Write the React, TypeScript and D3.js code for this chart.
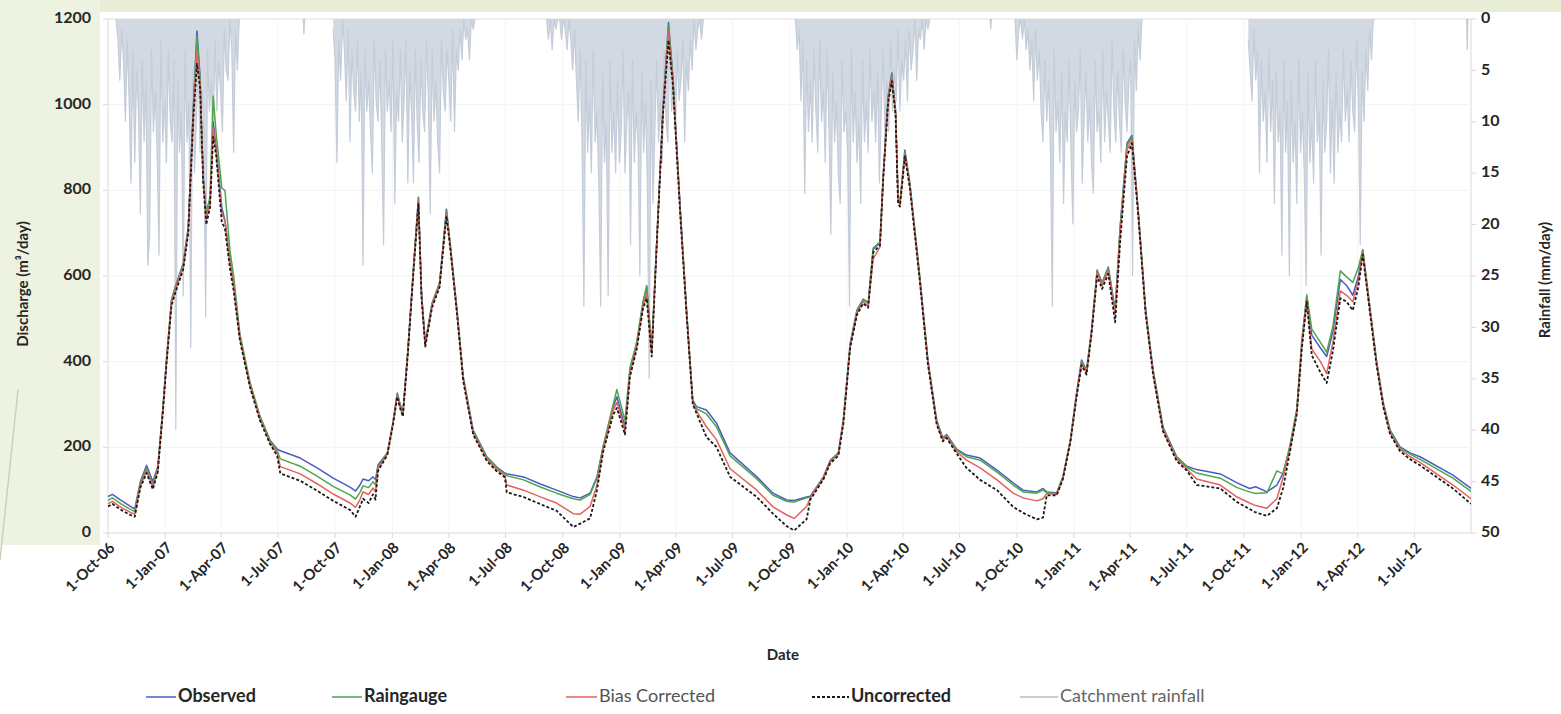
import React from "react";
import * as d3 from "d3";

// ---------- DATA ----------
const dischargeDates = [
  "2006-10-01","2006-10-08","2006-10-22","2006-11-06","2006-11-13","2006-11-22","2006-12-02","2006-12-12","2006-12-20","2006-12-28",
  "2007-01-03","2007-01-11","2007-01-17","2007-01-30","2007-02-07","2007-02-15","2007-02-21","2007-02-26","2007-03-03","2007-03-08",
  "2007-03-14","2007-03-19","2007-03-24","2007-04-02","2007-04-07","2007-04-15","2007-04-21","2007-05-01","2007-05-17","2007-06-02",
  "2007-06-18","2007-06-30","2007-07-05","2007-08-06","2007-09-02","2007-09-28","2007-10-25","2007-11-03","2007-11-10","2007-11-15",
  "2007-11-24","2007-12-01","2007-12-05","2007-12-09","2007-12-24","2008-01-02","2008-01-09","2008-01-13","2008-01-18","2008-01-26",
  "2008-02-03","2008-02-12","2008-02-17","2008-02-23","2008-03-05","2008-03-17","2008-03-28","2008-04-03","2008-04-14","2008-04-24",
  "2008-05-10","2008-06-01","2008-06-17","2008-06-30","2008-07-03","2008-07-30","2008-08-25","2008-09-21","2008-10-18","2008-10-29",
  "2008-11-14","2008-11-25","2008-12-05","2008-12-21","2008-12-27","2009-01-09","2009-01-17","2009-01-28","2009-02-07","2009-02-13",
  "2009-02-21","2009-03-01","2009-03-11","2009-03-20","2009-03-27","2009-04-08","2009-04-18","2009-04-28","2009-05-04","2009-05-20",
  "2009-06-05","2009-06-27","2009-08-09","2009-09-04","2009-09-26","2009-10-08","2009-10-28","2009-11-03","2009-11-24","2009-12-05",
  "2009-12-18","2009-12-26","2010-01-06","2010-01-17","2010-01-27","2010-02-04","2010-02-12","2010-02-23","2010-02-28","2010-03-08",
  "2010-03-14","2010-03-20","2010-03-24","2010-03-27","2010-04-04","2010-04-12","2010-04-28","2010-05-11","2010-05-25","2010-06-04",
  "2010-06-10","2010-06-26","2010-07-12","2010-08-03","2010-08-30","2010-09-25","2010-10-11","2010-11-02","2010-11-12","2010-11-18",
  "2010-12-04","2010-12-14","2010-12-26","2011-01-05","2011-01-13","2011-01-21","2011-01-29","2011-02-07","2011-02-15","2011-02-25",
  "2011-03-08","2011-03-16","2011-03-27","2011-04-04","2011-04-14","2011-04-26","2011-05-08","2011-05-24","2011-06-15","2011-07-01",
  "2011-07-17","2011-08-24","2011-09-20","2011-10-10","2011-10-20","2011-11-07","2011-11-23","2011-12-03","2011-12-14","2011-12-25",
  "2012-01-02","2012-01-10","2012-01-18","2012-02-01","2012-02-11","2012-02-21","2012-03-04","2012-03-14","2012-03-24","2012-04-02",
  "2012-04-09","2012-04-21","2012-05-01","2012-05-12","2012-05-23","2012-06-08","2012-06-24","2012-07-10","2012-09-01","2012-09-30",
];

const observed = [
  85,90,76,62,56,120,158,120,154,288,
  404,544,574,630,714,988,1172,1065,831,738,
  770,960,900,760,730,637,584,458,350,272,
  217,196,192,175,152,128,107,98,112,126,
  122,131,124,159,187,257,327,304,280,427,
  598,784,560,445,537,584,756,677,521,365,
  240,178,154,140,138,131,115,100,85,82,
  93,131,201,294,318,247,380,443,537,574,
  427,677,988,1192,1065,754,521,310,295,287,
  257,187,131,93,77,76,84,86,131,170,
  187,264,443,521,546,538,662,678,832,1018,
  1074,988,784,770,894,817,598,404,264,222,
  230,196,182,175,147,117,100,96,104,96,
  94,131,217,327,404,380,474,614,584,621,
  521,714,910,928,754,521,380,247,178,156,
  148,138,117,104,108,96,112,140,201,287,
  443,552,462,432,412,470,592,578,555,600,
  660,521,404,304,240,201,187,178,135,104,
];

const raingauge = [
  76,82,68,55,50,116,152,114,150,286,
  402,542,572,628,712,985,1160,1060,830,748,
  785,1020,930,805,800,660,600,465,354,274,
  218,192,173,156,133,109,89,79,95,110,
  106,120,112,155,186,256,325,302,278,425,
  596,780,558,443,535,582,752,675,519,363,
  238,176,152,138,134,124,108,93,80,77,
  90,128,203,300,335,262,386,446,540,578,
  432,678,985,1186,1062,752,520,308,290,278,
  248,180,126,88,74,72,82,84,130,168,
  186,262,440,518,544,536,665,680,830,1015,
  1070,985,782,768,890,815,596,402,262,220,
  228,194,178,170,142,112,96,93,100,94,
  92,130,216,325,400,378,472,612,582,618,
  518,712,905,925,752,519,378,245,176,154,
  140,128,106,96,92,94,145,138,205,290,
  448,556,476,445,422,482,612,598,585,620,
  662,520,402,302,238,199,184,172,128,97,
];

const biasCorrected = [
  68,74,60,48,44,110,146,108,146,282,
  398,536,566,622,706,975,1125,1050,825,732,
  768,945,890,745,730,630,580,455,346,268,
  213,186,155,138,115,91,70,60,78,96,
  90,105,96,150,184,254,322,298,275,422,
  592,775,552,439,531,578,746,671,515,359,
  234,172,148,134,112,100,85,70,45,44,
  62,112,196,286,305,240,372,436,530,560,
  420,672,980,1172,1055,746,515,304,285,248,
  218,150,100,61,42,34,62,82,128,166,
  184,258,436,514,540,530,640,668,825,1010,
  1062,980,778,765,885,810,592,398,258,217,
  225,190,170,152,124,93,82,75,80,92,
  90,128,214,322,396,375,468,608,578,612,
  510,700,895,918,748,515,374,241,172,150,
  126,112,84,70,64,58,80,130,196,282,
  436,545,430,400,372,445,565,555,540,590,
  655,515,398,298,234,195,178,165,112,80,
];

const uncorrected = [
  62,68,54,42,38,106,140,102,142,278,
  394,530,560,616,700,965,1095,1040,820,720,
  760,925,880,725,712,618,566,450,342,264,
  209,180,139,122,99,75,54,38,62,80,
  70,90,78,145,182,252,318,294,272,418,
  588,768,548,435,527,574,740,667,511,355,
  230,168,144,130,95,84,68,52,14,22,
  34,100,190,276,292,230,365,430,524,548,
  412,668,975,1150,1048,740,510,300,280,224,
  201,131,84,45,16,6,32,78,125,163,
  180,254,432,510,536,526,655,672,822,1005,
  1055,975,770,762,880,805,588,394,254,214,
  222,186,152,124,100,61,47,32,36,88,
  88,126,212,318,392,370,464,600,570,605,
  492,680,880,910,744,511,370,237,168,146,
  112,104,72,56,48,40,58,105,190,278,
  430,540,415,375,350,425,548,540,520,575,
  650,510,394,294,230,191,172,158,104,68,
];

// Catchment rainfall (mm/day), wet seasons read every 3 days from each start date
const rainSeasonStarts = ["2006-10-14", "2007-09-28", "2008-09-05", "2009-10-10", "2010-09-28", "2011-10-08"];
const rainStepDays = 3;
const rain2006 = [0,2,6,1,4,10,2,8,16,3,14,5,9,19,4,12,6,24,21,3,11,7,13,23,2,12,8,14,3,10,12,4,40,6,13,9,27,3,12,8,32,5,15,10,4,13,7,11,29,3,9,6,12,2,9,4,7,11,1,5,6,0,3,13,1,5,0];
const rain2007 = [1,4,14,2,6,0,3,8,1,12,3,7,9,2,10,5,24,3,9,6,11,15,2,8,10,4,12,22,3,9,6,11,2,18,7,10,3,12,8,2,16,5,9,16,3,10,14,4,9,11,2,8,19,3,10,6,12,15,2,7,9,3,6,10,1,11,3,5,1,4,0,2,1,4,0,1,0];
const rain2008 = [0,2,0,3,0,1,0,0,2,0,1,3,0,2,5,1,6,10,3,12,28,4,13,8,15,3,12,9,16,28,5,14,10,27,4,13,9,15,6,14,11,3,15,10,7,22,4,14,9,12,25,5,13,8,16,35,6,18,11,4,12,8,14,3,10,12,2,9,7,11,3,8,6,2,12,4,7,2,5,0,3,1,0,2,0];
const rain2009 = [0,3,1,8,2,17,4,11,6,12,3,9,13,2,10,7,14,3,11,21,5,12,8,15,18,4,11,9,13,28,3,12,7,14,10,18,4,12,8,13,3,10,7,12,5,16,9,3,12,6,11,2,9,5,8,1,9,4,6,2,8,1,5,3,0,6,1,2,0,3,0,1,0];
const rain2010 = [0,4,1,0,2,0,3,1,5,2,8,1,6,3,9,12,4,10,6,13,28,3,11,8,14,5,18,9,12,4,13,20,6,11,9,3,16,10,5,12,8,14,17,4,11,9,14,3,12,7,10,13,2,9,12,5,10,13,3,8,11,6,4,25,2,7,1,4,0];
const rain2011 = [2,5,8,1,6,3,15,4,10,7,14,3,11,6,18,5,12,9,23,4,13,8,25,6,14,10,18,4,13,9,15,26,5,14,10,16,4,12,9,23,6,13,10,3,15,8,16,5,13,9,12,3,10,7,12,4,9,11,2,8,22,5,10,3,7,1,4,0,0];
const rainSeasons = [rain2006, rain2007, rain2008, rain2009, rain2010, rain2011];
const showerDates = ["2007-08-12", "2010-08-20", "2012-09-24"];
const showerValues = [1.5, 1, 3];

const xTickDates = [
  "2006-10-01","2007-01-01","2007-04-01","2007-07-01","2007-10-01","2008-01-01","2008-04-01","2008-07-01","2008-10-01",
  "2009-01-01","2009-04-01","2009-07-01","2009-10-01","2010-01-01","2010-04-01","2010-07-01","2010-10-01",
  "2011-01-01","2011-04-01","2011-07-01","2011-10-01","2012-01-01","2012-04-01","2012-07-01",
];
const xTickLabels = [
  "1-Oct-06","1-Jan-07","1-Apr-07","1-Jul-07","1-Oct-07","1-Jan-08","1-Apr-08","1-Jul-08","1-Oct-08",
  "1-Jan-09","1-Apr-09","1-Jul-09","1-Oct-09","1-Jan-10","1-Apr-10","1-Jul-10","1-Oct-10",
  "1-Jan-11","1-Apr-11","1-Jul-11","1-Oct-11","1-Jan-12","1-Apr-12","1-Jul-12",
];
const dischargeTicks = [0, 200, 400, 600, 800, 1000, 1200];
const rainTicks = [0, 5, 10, 15, 20, 25, 30, 35, 40, 45, 50];

const seriesNames = ["Observed", "Raingauge", "Bias Corrected", "Uncorrected", "Catchment rainfall"];

// ---------- CHART ----------
const W = 1561, H = 714;
const L = 108, R = 1471, T = 19, B = 533;
const FONT = "Lato, 'Open Sans', sans-serif";
const parse = d3.utcParse("%Y-%m-%d");

type RainPt = { d: Date; v: number };

export default function App() {
  const x = d3.scaleUtc().domain([parse("2006-10-01")!, parse("2012-09-30")!]).range([L, R]);
  const yQ = d3.scaleLinear().domain([0, 1200]).range([B, T]);
  const yR = d3.scaleLinear().domain([0, 50]).range([T, B]);

  const dates = dischargeDates.map((d) => parse(d)!);
  const qLine = (vals: number[]) =>
    d3.line<number>().x((_, i) => x(dates[i])).y((v) => yQ(v))(vals) || "";

  const rainLine = d3.line<RainPt>().x((p) => x(p.d)).y((p) => yR(p.v));
  const rainArea = d3.area<RainPt>().x((p) => x(p.d)).y0(yR(0)).y1((p) => yR(p.v));
  const rainSets: RainPt[][] = rainSeasons.map((vals, s) => {
    const start = parse(rainSeasonStarts[s])!;
    return vals.map((v, i) => ({ d: d3.utcDay.offset(start, i * rainStepDays), v }));
  });
  showerDates.forEach((sd, k) => {
    const d = parse(sd)!;
    rainSets.push([
      { d: d3.utcDay.offset(d, -1), v: 0 },
      { d, v: showerValues[k] },
      { d: d3.utcDay.offset(d, 1), v: 0 },
    ]);
  });

  const colors = ["#4a5cc4", "#4ea64a", "#e2635c", "#1a1a1a", "#c4ccd8"];
  const series = [observed, raingauge, biasCorrected, uncorrected];

  const legendItems = [
    { x: 146, w: 30, bold: true, dash: "", color: colors[0], text: seriesNames[0], tc: "#262626" },
    { x: 332, w: 30, bold: true, dash: "", color: colors[1], text: seriesNames[1], tc: "#262626" },
    { x: 566, w: 31, bold: false, dash: "", color: colors[2], text: seriesNames[2], tc: "#555" },
    { x: 812, w: 37, bold: true, dash: "3 2", color: colors[3], text: seriesNames[3], tc: "#262626" },
    { x: 1020, w: 38, bold: false, dash: "", color: "#b8bcc2", text: seriesNames[4], tc: "#666" },
  ];

  return (
    <svg width={W} height={H} style={{ position: "absolute", left: 0, top: 0, background: "#ffffff" }} fontFamily={FONT}>
      <defs>
        <clipPath id="plotClip">
          <rect x={L} y={T} width={R - L} height={B - T} />
        </clipPath>
      </defs>
      {/* slide background */}
      <rect x={0} y={0} width={W} height={12} fill="#e8eed6" />
      <rect x={0} y={0} width={100} height={545} fill="#eef2e1" />
      <line x1={18} y1={390} x2={0} y2={560} stroke="#c9d2b8" strokeWidth={1.5} />

      {/* plot area */}
      <rect x={L} y={T} width={R - L} height={B - T} fill="#ffffff" stroke="#d9d9d9" strokeWidth={1} />
      {dischargeTicks.slice(1).map((t) => (
        <line key={"gh" + t} x1={L} x2={R} y1={yQ(t)} y2={yQ(t)} stroke="#f2f2f2" strokeWidth={1} />
      ))}
      {xTickDates.slice(1).map((t) => (
        <line key={"gv" + t} x1={x(parse(t)!)} x2={x(parse(t)!)} y1={T} y2={B} stroke="#f4f4f4" strokeWidth={1} />
      ))}

      <g clipPath="url(#plotClip)">
        {rainSets.map((pts, i) => (
          <g key={"r" + i}>
            <path d={rainArea(pts) || ""} fill="#d2d9e2" stroke="none" />
            <path d={rainLine(pts) || ""} fill="none" stroke={colors[4]} strokeWidth={1.2} />
          </g>
        ))}
        {series.map((s, i) => (
          <path
            key={"s" + i}
            d={qLine(s)}
            fill="none"
            stroke={colors[i]}
            strokeWidth={i === 3 ? 1.8 : 1.5}
            strokeDasharray={i === 3 ? "3 2" : undefined}
            strokeLinejoin="round"
          />
        ))}
      </g>

      {/* axes */}
      {dischargeTicks.map((t) => (
        <g key={"yl" + t}>
          <line x1={L - 5} x2={L} y1={yQ(t)} y2={yQ(t)} stroke="#d9d9d9" />
          <text x={91} y={yQ(t)} textAnchor="end" dominantBaseline="middle" fontSize={16} fontWeight={700} fill="#262626">
            {t}
          </text>
        </g>
      ))}
      {rainTicks.map((t) => (
        <g key={"yr" + t}>
          <line x1={R} x2={R + 5} y1={yR(t)} y2={yR(t)} stroke="#d9d9d9" />
          <text x={1481} y={yR(t)} textAnchor="start" dominantBaseline="middle" fontSize={16} fontWeight={700} fill="#262626">
            {t}
          </text>
        </g>
      ))}
      {xTickDates.map((t, i) => {
        const px = x(parse(t)!);
        return (
          <g key={"xt" + t}>
            <line x1={px} x2={px} y1={B} y2={B + 5} stroke="#d9d9d9" />
            <text
              transform={`translate(${px + 5},${B + 13}) rotate(-45)`}
              textAnchor="end"
              dominantBaseline="middle"
              fontSize={15}
              fontWeight={700}
              fill="#262626"
            >
              {xTickLabels[i]}
            </text>
          </g>
        );
      })}

      <text transform="translate(24,284) rotate(-90)" textAnchor="middle" dominantBaseline="middle" fontSize={15} fontWeight={700} fill="#262626">
        Discharge (m³/day)
      </text>
      <text transform="translate(1546,280) rotate(-90)" textAnchor="middle" dominantBaseline="middle" fontSize={15} fontWeight={700} fill="#262626">
        Rainfall (mm/day)
      </text>
      <text x={783} y={656} textAnchor="middle" dominantBaseline="middle" fontSize={15} fontWeight={700} fill="#262626">
        Date
      </text>

      {/* legend */}
      {legendItems.map((it) => (
        <g key={it.text}>
          <line x1={it.x} x2={it.x + it.w} y1={697} y2={697} stroke={it.color} strokeWidth={it.dash ? 1.8 : 1.5} strokeDasharray={it.dash || undefined} />
          <text x={it.x + it.w + 2} y={697} dominantBaseline="middle" fontSize={18} fontWeight={it.bold ? 700 : 400} fill={it.tc}>
            {it.text}
          </text>
        </g>
      ))}
    </svg>
  );
}
